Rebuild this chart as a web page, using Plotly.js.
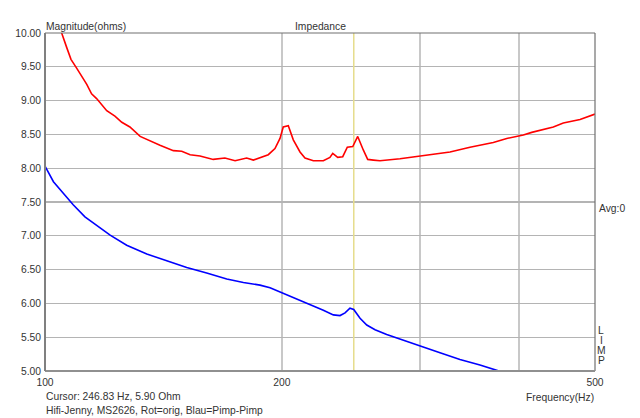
<!DOCTYPE html>
<html>
<head>
<meta charset="utf-8">
<script src="https://cdn.plot.ly/plotly-3.0.1.min.js"></script>
<style>html,body{margin:0;padding:0;background:#fff;}#chart{width:640px;height:418px;}</style>
</head>
<body>
<div id="chart"></div>
<script>
// Red curve (Rot = orig)
var redFreq = [100, 105.0, 106.6, 107.9, 109.7, 111.3, 113.0, 114.6, 116.3, 119.8, 122.7, 125.2, 128.2, 132.1, 136.0, 140.0, 145.6, 149.2, 152.9, 157.4, 163.6, 169.3, 174.4, 180.4, 184.0, 188.5, 192.2, 196.0, 198.9, 200.8, 203.8, 206.8, 210.9, 214.0, 219.3, 225.8, 230.2, 232.1, 235.5, 239.0, 242.2, 246.1, 249.7, 253.8, 257.1, 261.4, 266.5, 282.6, 299.6, 327.1, 346.8, 371.3, 386.2, 405.4, 415.5, 442.6, 455.7, 478.6, 500];
var redZ =    [10.6, 10.0, 9.78, 9.61, 9.48, 9.36, 9.24, 9.10, 9.03, 8.85, 8.77, 8.68, 8.61, 8.47, 8.40, 8.34, 8.26, 8.25, 8.20, 8.18, 8.13, 8.15, 8.11, 8.15, 8.12, 8.17, 8.20, 8.29, 8.44, 8.61, 8.63, 8.42, 8.24, 8.15, 8.11, 8.11, 8.16, 8.22, 8.16, 8.17, 8.31, 8.32, 8.47, 8.27, 8.13, 8.12, 8.11, 8.14, 8.18, 8.24, 8.31, 8.38, 8.44, 8.49, 8.53, 8.61, 8.67, 8.72, 8.80];

// Blue curve (Blau = Pimp-Pimp)
var blueFreq = [100, 102.5, 105.5, 108.6, 112.4, 116.3, 121.0, 127.0, 134.7, 142.8, 151.4, 160.5, 170.2, 178.7, 187.6, 193.2, 200.8, 208.9, 217.2, 225.8, 232.5, 237.1, 240.6, 244.1, 246.8, 251.4, 256.4, 262.7, 271.8, 282.6, 293.8, 308.5, 317.7, 336.8, 357.1, 375.0, 400, 450, 500];
var blueZ =    [8.03, 7.80, 7.63, 7.46, 7.28, 7.16, 7.01, 6.86, 6.73, 6.63, 6.53, 6.45, 6.36, 6.31, 6.27, 6.23, 6.15, 6.07, 5.99, 5.90, 5.83, 5.82, 5.86, 5.93, 5.91, 5.78, 5.68, 5.61, 5.54, 5.47, 5.40, 5.32, 5.27, 5.17, 5.09, 5.01, 4.90, 4.72, 4.55];

// Cursor
var cursorFreq = [246.83, 246.83];
var cursorZ = [5, 10];

var yTicks = [5.0, 5.5, 6.0, 6.5, 7.0, 7.5, 8.0, 8.5, 9.0, 9.5, 10.0];
var yTickText = yTicks.map(function(v){ return v.toFixed(2); });
var xTicks = [100, 200, 300, 400, 500];
var xTickText = ['100', '200', '', '', '500'];

var font = {family: 'Liberation Sans, Arial, sans-serif', size: 10.3, color: '#333333'};

var traces = [
  {x: cursorFreq, y: cursorZ, mode: 'lines', line: {color: '#e6dd8c', width: 1.5}, hoverinfo: 'skip'},
  {x: blueFreq, y: blueZ, mode: 'lines', line: {color: '#0000ff', width: 1.6}},
  {x: redFreq, y: redZ, mode: 'lines', line: {color: '#ff0000', width: 1.6}}
];

function ann(text, x, y, xanchor, yanchor) {
  return {text: text, xref: 'paper', yref: 'paper', x: x, y: y, xanchor: xanchor, yanchor: yanchor, showarrow: false, font: font};
}
function px(p){ return (p - 45) / 550; }
function py(p){ return (371 - p) / 338; }

var layout = {
  width: 640, height: 418,
  margin: {l: 45, r: 45, t: 33, b: 47, pad: 0},
  paper_bgcolor: '#ffffff', plot_bgcolor: '#ffffff',
  showlegend: false,
  font: font,
  xaxis: {
    type: 'log', range: [Math.log10(100), Math.log10(500)],
    tickvals: xTicks, ticktext: xTickText,
    showgrid: true, gridcolor: '#c8c8c8', gridwidth: 2,
    zeroline: false, showline: false, ticks: '', tickfont: font, ticklabelstandoff: 4
  },
  yaxis: {
    range: [5, 10], tickvals: yTicks, ticktext: yTickText,
    showgrid: true, gridcolor: '#b4b4b4', gridwidth: 1.2,
    zeroline: false, showline: false, ticks: '', tickfont: font, ticklabelstandoff: 3
  },
  shapes: [
    {type: 'line', xref: 'paper', yref: 'paper', x0: 0, x1: 1, y0: 1, y1: 1, line: {color: '#707070', width: 1.2}},
    {type: 'line', xref: 'paper', yref: 'paper', x0: 1, x1: 1, y0: 0, y1: 1, line: {color: '#707070', width: 1.2}},
    {type: 'line', xref: 'paper', yref: 'paper', x0: 0, x1: 1, y0: 0, y1: 0, line: {color: '#909090', width: 2}},
    {type: 'line', xref: 'paper', yref: 'paper', x0: 0, x1: 0, y0: 0, y1: 1, line: {color: '#808080', width: 2}}
  ],
  annotations: [
    ann('Magnitude(ohms)', px(44), py(27), 'left', 'middle'),
    ann('Impedance', px(320), py(27), 'center', 'middle'),
    ann('Avg:0', px(597), py(208), 'left', 'middle'),
    ann('L', px(601), py(330), 'center', 'middle'),
    ann('I', px(601), py(340), 'center', 'middle'),
    ann('M', px(601), py(350), 'center', 'middle'),
    ann('P', px(601), py(360), 'center', 'middle'),
    ann('Frequency(Hz)', px(596), py(397), 'right', 'middle'),
    ann('Cursor: 246.83 Hz, 5.90 Ohm', px(44), py(396), 'left', 'middle'),
    ann('Hifi-Jenny, MS2626, Rot=orig, Blau=Pimp-Pimp', px(44), py(410), 'left', 'middle')
  ]
};

Plotly.newPlot('chart', traces, layout, {displayModeBar: false, staticPlot: true});
</script>
</body>
</html>
